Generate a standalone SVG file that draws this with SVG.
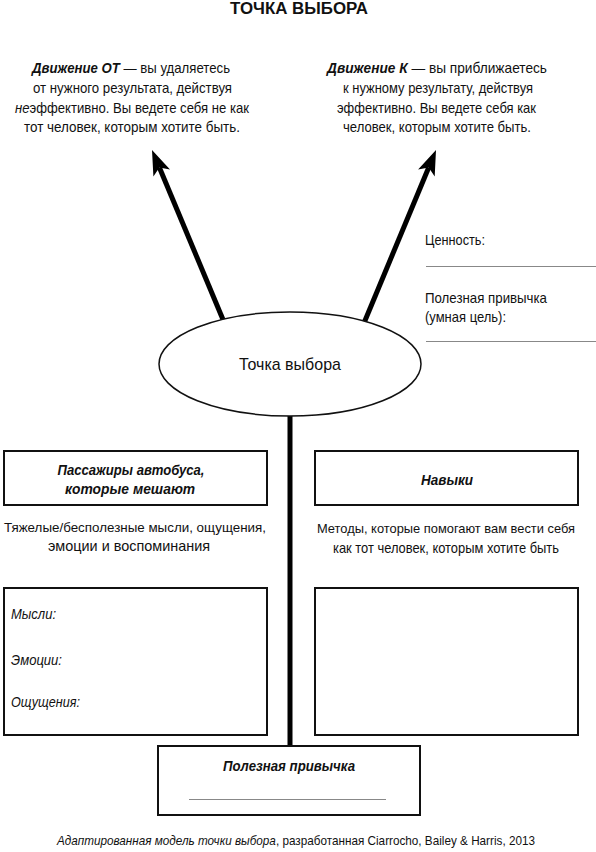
<svg xmlns="http://www.w3.org/2000/svg" width="596" height="852" viewBox="0 0 596 852">
<style>
text{font-family:"Liberation Sans",Arial,sans-serif;fill:#111;}
.t{font-size:14.5px;text-anchor:middle;}
.l{font-size:14.5px;}
.bi{font-weight:bold;font-style:italic;}
.i{font-style:italic;}
.box{fill:#fff;stroke:#111;stroke-width:2;}
.gl{stroke:#888;stroke-width:1.2;}
.conn{stroke:#000;stroke-width:5;fill:none;}
.head{fill:#000;}
</style>
<rect width="596" height="852" fill="#fff"/>
<text x="299" y="14" textLength="138" lengthAdjust="spacingAndGlyphs" style="font-size:16px;font-weight:bold;text-anchor:middle">ТОЧКА ВЫБОРА</text>

<g id="away">
<text class="t" x="131" y="73" textLength="198" lengthAdjust="spacingAndGlyphs"><tspan class="bi">Движение ОТ</tspan> — вы удаляетесь</text>
<text class="t" x="132.5" y="93" textLength="199" lengthAdjust="spacingAndGlyphs">от нужного результата, действуя</text>
<text class="t" x="132" y="113" textLength="234" lengthAdjust="spacingAndGlyphs"><tspan class="i">не</tspan>эффективно. Вы ведете себя не как</text>
<text class="t" x="132" y="132" textLength="216" lengthAdjust="spacingAndGlyphs">тот человек, которым хотите быть.</text>
</g>
<g id="towards">
<text class="t" x="437" y="73" textLength="220" lengthAdjust="spacingAndGlyphs"><tspan class="bi">Движение К</tspan> — вы приближаетесь</text>
<text class="t" x="438" y="93" textLength="190" lengthAdjust="spacingAndGlyphs">к нужному результату, действуя</text>
<text class="t" x="436.5" y="113" textLength="199" lengthAdjust="spacingAndGlyphs">эффективно. Вы ведете себя как</text>
<text class="t" x="437" y="132" textLength="188" lengthAdjust="spacingAndGlyphs">человек, которым хотите быть.</text>
</g>

<g id="connectors">
<line class="conn" x1="224" y1="322" x2="159.4" y2="167.5"/>
<polygon class="head" points="152,150 170,169.5 159.4,167.5 153.4,176.5"/>
<line class="conn" x1="364" y1="323" x2="428.7" y2="167.5"/>
<polygon class="head" points="436,150 434.7,176.6 428.7,167.5 418.1,169.6"/>
<line class="conn" x1="290" y1="414" x2="290" y2="746"/>
</g>

<g id="values">
<text class="l" x="425" y="245" textLength="60" lengthAdjust="spacingAndGlyphs">Ценность:</text>
<line class="gl" x1="426" y1="266.5" x2="596" y2="266.5"/>
<text class="l" x="425" y="303" textLength="122" lengthAdjust="spacingAndGlyphs">Полезная привычка</text>
<text class="l" x="425" y="322" textLength="81" lengthAdjust="spacingAndGlyphs">(умная цель):</text>
<line class="gl" x1="426" y1="341.5" x2="596" y2="341.5"/>
</g>

<g id="choice-point">
<ellipse cx="290" cy="364" rx="131" ry="52" fill="#fff" stroke="#111" stroke-width="1.5"/>
<text x="290" y="370" textLength="102" lengthAdjust="spacingAndGlyphs" style="font-size:17px;text-anchor:middle">Точка выбора</text>
</g>

<g id="passengers">
<rect class="box" x="4" y="451" width="263" height="54"/>
<text class="t bi" x="131" y="475" textLength="147" lengthAdjust="spacingAndGlyphs">Пассажиры автобуса,</text>
<text class="t bi" x="130" y="494" textLength="130" lengthAdjust="spacingAndGlyphs">которые мешают</text>
<text class="t" x="135" y="532" textLength="262" lengthAdjust="spacingAndGlyphs" style="font-size:13.5px">Тяжелые/бесполезные мысли, ощущения,</text>
<text class="t" x="129" y="551" textLength="162" lengthAdjust="spacingAndGlyphs">эмоции и воспоминания</text>
</g>

<g id="skills">
<rect class="box" x="315" y="451" width="263" height="54"/>
<text class="t bi" x="447" y="485" textLength="52" lengthAdjust="spacingAndGlyphs">Навыки</text>
<text class="t" x="446" y="533" textLength="258" lengthAdjust="spacingAndGlyphs" style="font-size:13.5px">Методы, которые помогают вам вести себя</text>
<text class="t" x="446" y="553" textLength="226" lengthAdjust="spacingAndGlyphs">как тот человек, которым хотите быть</text>
</g>

<g id="passengers-list">
<rect class="box" x="4" y="588" width="263" height="147"/>
<text class="l i" x="11" y="619" textLength="45" lengthAdjust="spacingAndGlyphs">Мысли:</text>
<text class="l i" x="11" y="665" textLength="51" lengthAdjust="spacingAndGlyphs">Эмоции:</text>
<text class="l i" x="11" y="707" textLength="69" lengthAdjust="spacingAndGlyphs">Ощущения:</text>
</g>

<g id="skills-list">
<rect class="box" x="315" y="588" width="263" height="147"/>
</g>

<g id="useful-habit">
<rect class="box" x="158" y="746" width="262" height="69"/>
<text class="t bi" x="289" y="771" textLength="132" lengthAdjust="spacingAndGlyphs">Полезная привычка</text>
<line class="gl" x1="189" y1="799.5" x2="386" y2="799.5"/>
</g>

<text x="296" y="845" textLength="478" lengthAdjust="spacingAndGlyphs" style="font-size:13px;text-anchor:middle"><tspan class="i">Адаптированная модель точки выбора</tspan>, разработанная Ciarrocho, Bailey &amp; Harris, 2013</text>
</svg>
